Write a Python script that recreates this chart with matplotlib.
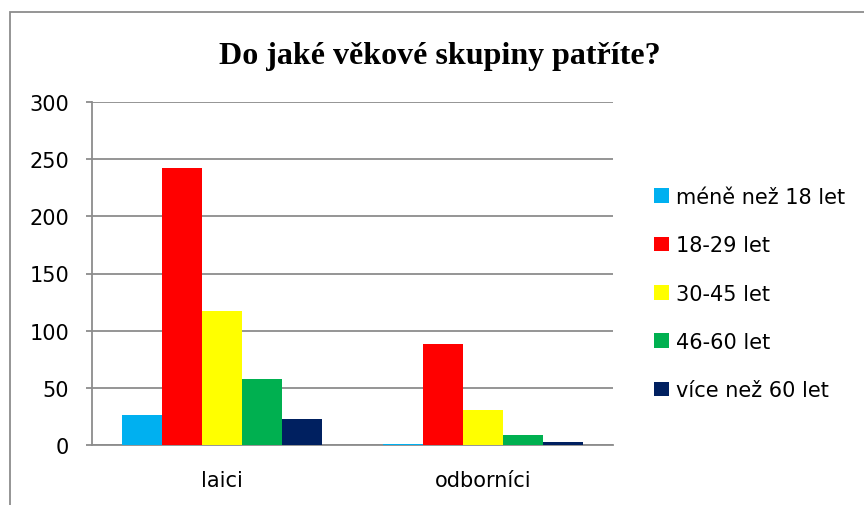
import matplotlib
matplotlib.use("Agg")
import matplotlib.pyplot as plt
import numpy as np
from matplotlib.patches import Rectangle

categories = ["laici", "odborníci"]
series_names = ["méně než 18 let", "18-29 let", "30-45 let", "46-60 let", "více než 60 let"]
values_under18 = [26, 1]
values_18_29 = [242, 88]
values_30_45 = [117, 31]
values_46_60 = [58, 9]
values_over60 = [23, 3]
colors = ["#00B0F0", "#FF0000", "#FFFF00", "#00B050", "#002060"]
title = "Do jaké věkové skupiny patříte?"
yticks = [0, 50, 100, 150, 200, 250, 300]

W, H = 864, 506
fig = plt.figure(figsize=(W / 100, H / 100), dpi=100)
fig.patch.set_facecolor("white")

# chart frame
fig.add_artist(Rectangle((10 / W, -0.1), 1.2, (H - 12.5) / H + 0.1, transform=fig.transFigure,
                         fill=False, edgecolor="#8c8c8c", linewidth=1.3))

left, right, top, bottom = 92, 613, 103, 446
ax = fig.add_axes([left / W, 1 - bottom / H, (right - left) / W, (bottom - top) / H])

series = [values_under18, values_18_29, values_30_45, values_46_60, values_over60]
n = len(series)
bw = 1 / 6.5
x = np.arange(len(categories))
for i, (vals, c, name) in enumerate(zip(series, colors, series_names)):
    offs = (i - (n - 1) / 2) * bw
    ax.bar(x + offs, vals, width=bw, color=c, label=name, zorder=3, linewidth=0)

ax.set_xlim(-0.5, len(categories) - 0.5)
ax.set_ylim(0, 300)
ax.set_yticks(yticks)
ax.set_xticks(x)
ax.set_xticklabels(categories)
fam = ["DejaVu Sans"]
for lab in ax.get_xticklabels() + ax.get_yticklabels():
    lab.set_family(fam)
    lab.set_fontsize(15)
ax.tick_params(axis="y", length=4, color="#8c8c8c", pad=12.5, width=1.3)
ax.tick_params(axis="x", length=0, pad=18)
ax.grid(axis="y", color="#8c8c8c", linewidth=1.3, zorder=0)
for s in ["top", "right"]:
    ax.spines[s].set_visible(False)
for s in ["left", "bottom"]:
    ax.spines[s].set_color("#8c8c8c")
    ax.spines[s].set_linewidth(1.3)

fig.text(440 / W, 1 - 64 / H, title, ha="center", va="baseline",
         family=["Liberation Serif", "DejaVu Serif"], fontweight="bold", fontsize=23)

leg = fig.legend(loc="upper left", bbox_to_anchor=(654 / W, 1 - 188 / H), frameon=False,
                 prop={"family": fam, "size": 15}, handlelength=0.72, handleheight=0.72,
                 handletextpad=0.34, labelspacing=1.36, borderpad=0, borderaxespad=0)

fig.savefig("out.png", dpi=100)
